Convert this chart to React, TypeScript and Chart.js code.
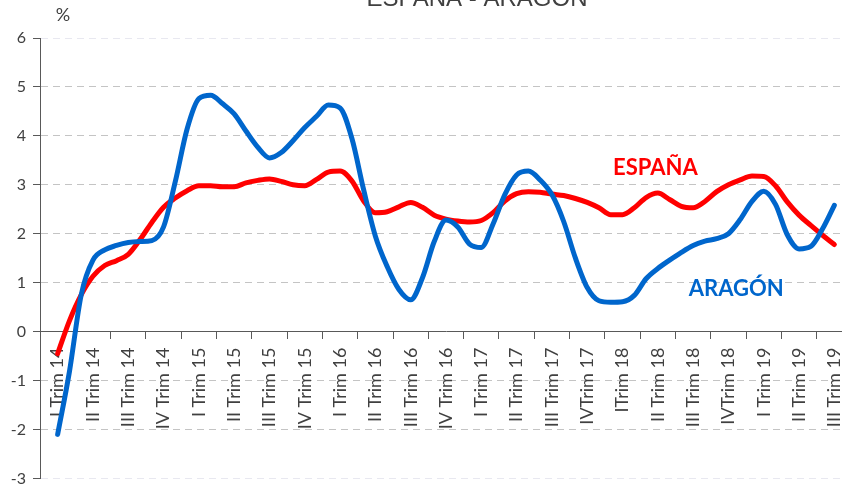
import React, { useEffect, useRef } from "react";
import { Chart, registerables } from "chart.js";

Chart.register(...registerables);

// Quarter labels (category axis)
const quarterLabels = [
  "I Trim 14", "II Trim 14", "III Trim 14", "IV Trim 14",
  "I Trim 15", "II Trim 15", "III Trim 15", "IV Trim 15",
  "I Trim 16", "II Trim 16", "III Trim 16", "IV Trim 16",
  "I Trim 17", "II Trim 17", "III Trim 17", "IVTrim 17",
  "ITrim 18", "II Trim 18", "III Trim 18", "IVTrim 18",
  "I Trim 19", "II Trim 19", "III Trim 19",
];

// Monthly values (three per quarter)
const espana = [
  -0.45, 0.22, 0.75, 1.13, 1.35, 1.45, 1.58, 1.88, 2.23, 2.54,
  2.73, 2.88, 2.98, 2.98, 2.96, 2.96, 3.04, 3.09, 3.12, 3.07,
  3.0, 2.98, 3.11, 3.26, 3.28, 3.08, 2.67, 2.43, 2.45, 2.55,
  2.64, 2.54, 2.38, 2.3, 2.26, 2.24, 2.27, 2.43, 2.67, 2.82,
  2.86, 2.85, 2.81, 2.78, 2.72, 2.64, 2.53, 2.39, 2.39, 2.53,
  2.74, 2.83, 2.7, 2.56, 2.53, 2.66, 2.86, 3.0, 3.1, 3.18,
  3.17, 2.98, 2.65, 2.38, 2.17, 1.97, 1.78,
];

const aragon = [
  -2.1, -0.82, 0.75, 1.46, 1.67, 1.76, 1.82, 1.84, 1.86, 2.14,
  3.07, 4.14, 4.76, 4.83, 4.66, 4.45, 4.1, 3.77, 3.55, 3.66,
  3.9, 4.17, 4.4, 4.63, 4.57, 3.95, 2.9, 1.95, 1.33, 0.86,
  0.65, 1.1, 1.84, 2.28, 2.14, 1.79, 1.72, 2.2, 2.8, 3.2,
  3.28, 3.1, 2.8, 2.25, 1.5, 0.9, 0.63, 0.6, 0.61, 0.74,
  1.08, 1.29, 1.46, 1.62, 1.76, 1.85, 1.9, 2.0, 2.29, 2.66,
  2.87, 2.6, 1.98, 1.69, 1.74, 2.1, 2.58,
];

const yMin = -3;
const yMax = 6;

const titleText = "ESPAÑA - ARAGÓN";
const unitText = "%";
const espanaLabel = "ESPAÑA";
const aragonLabel = "ARAGÓN";
// label anchors in data units (quarter index, percent)
const espanaLabelPos = { x: 16.93, y: 3.35 };
const aragonLabelPos = { x: 19.22, y: 0.88 };

const RED = "#FF0000";
const BLUE = "#0066CC";
const AXIS = "#595959";
const TEXT = "#404040";

const toPoints = (arr: number[]) => arr.map((v, k) => ({ x: k / 3, y: v }));

const textPlugin = {
  id: "textOverlay",
  afterDraw(chart: any) {
    const { ctx, scales } = chart;
    const xs = scales.xData;
    const ys = scales.y;
    ctx.save();
    // Title (cropped at top)
    ctx.fillStyle = TEXT;
    ctx.font = "24px 'Liberation Sans', Arial, sans-serif";
    ctx.textAlign = "center";
    ctx.textBaseline = "alphabetic";
    ctx.fillText(titleText, 477, 5.5);
    // Unit
    ctx.font = "18px Lato, sans-serif";
    ctx.textBaseline = "middle";
    ctx.fillText(unitText, 63, 15);
    // Series labels
    ctx.font = "bold 22px Lato, sans-serif";
    ctx.fillStyle = RED;
    ctx.fillText(espanaLabel, xs.getPixelForValue(espanaLabelPos.x), ys.getPixelForValue(espanaLabelPos.y));
    ctx.fillStyle = BLUE;
    ctx.fillText(aragonLabel, xs.getPixelForValue(aragonLabelPos.x), ys.getPixelForValue(aragonLabelPos.y));
    ctx.restore();
  },
};

export default function App() {
  const canvasRef = useRef<HTMLCanvasElement | null>(null);

  useEffect(() => {
    if (!canvasRef.current) return;
    Chart.defaults.font.family = "Lato, 'Liberation Sans', sans-serif";
    const chart = new Chart(canvasRef.current, {
      type: "line",
      data: {
        datasets: [
          {
            label: aragonLabel,
            data: toPoints(aragon),
            xAxisID: "xData",
            yAxisID: "y",
            borderColor: BLUE,
            backgroundColor: BLUE,
            borderWidth: 5,
            pointRadius: 0,
            cubicInterpolationMode: "monotone",
            borderCapStyle: "round",
            borderJoinStyle: "round",
            fill: false,
          },
          {
            label: espanaLabel,
            data: toPoints(espana),
            xAxisID: "xData",
            yAxisID: "y",
            borderColor: RED,
            backgroundColor: RED,
            borderWidth: 5,
            pointRadius: 0,
            cubicInterpolationMode: "monotone",
            borderCapStyle: "round",
            borderJoinStyle: "round",
            fill: false,
          },
        ],
      },
      options: {
        animation: false,
        responsive: false,
        layout: { padding: { left: 0, top: 38, right: 28, bottom: 10 } },
        plugins: {
          legend: { display: false },
          tooltip: { enabled: false },
          title: { display: false },
        },
        scales: {
          x: {
            type: "category",
            labels: quarterLabels,
            offset: true,
            position: { y: 0 },
            grid: {
              offset: true,
              drawOnChartArea: false,
              drawTicks: true,
              tickLength: 7,
              tickColor: AXIS,
            },
            border: { display: true, color: AXIS, width: 1 },
            ticks: {
              autoSkip: false,
              minRotation: 90,
              maxRotation: 90,
              padding: 9,
              color: TEXT,
              font: { size: 18 },
            },
          },
          xData: {
            type: "linear",
            display: false,
            min: -0.5,
            max: quarterLabels.length - 0.5,
          },
          y: {
            type: "linear",
            position: "left",
            min: yMin,
            max: yMax,
            afterFit: (scale: any) => {
              scale.width = 40;
            },
            ticks: {
              stepSize: 1,
              padding: 7,
              color: TEXT,
              font: { size: 16 },
            },
            grid: {
              color: (ctx: any) => {
                const v = ctx.tick ? ctx.tick.value : null;
                if (v === yMax || v === yMin) return "#E8E8F0";
                if (v === 0) return "rgba(0,0,0,0)";
                return "#C4C4C4";
              },
              lineWidth: 1,
              drawTicks: true,
              tickLength: 7,
              tickColor: AXIS,
            },
            border: { display: true, color: AXIS, width: 1, dash: [7, 5] },
          },
        },
      },
      plugins: [textPlugin],
    } as any);
    return () => chart.destroy();
  }, []);

  return (
    <div
      style={{
        position: "fixed",
        left: 0,
        top: 0,
        width: 842,
        height: 488,
        overflow: "hidden",
        background: "#fff",
      }}
    >
      <canvas
        ref={canvasRef}
        width={880}
        height={495}
        style={{ width: 880, height: 495, display: "block" }}
      />
    </div>
  );
}
